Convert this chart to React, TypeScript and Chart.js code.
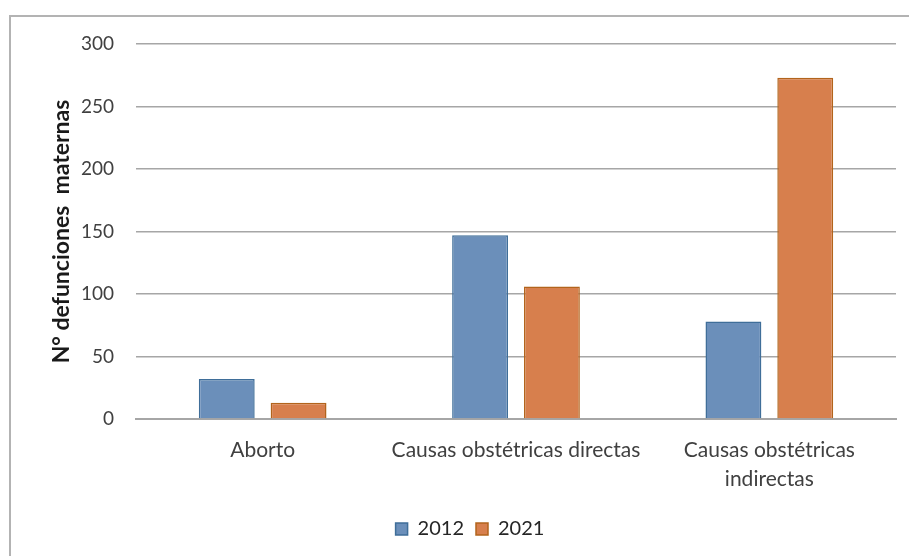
import React, { useEffect, useRef } from "react";
import { Chart, registerables } from "chart.js";

Chart.register(...registerables);

const categories: (string | string[])[] = [
  "Aborto",
  "Causas obstétricas directas",
  ["Causas obstétricas", "indirectas"],
];
const series2012 = [32, 147, 78];
const series2021 = [13, 106, 273];
const seriesLabels = ["2012", "2021"];
const yTicks = { min: 0, max: 300, step: 50 };
const yTitle = "N° defunciones  maternas";

const FONT = "Lato, 'Noto Sans', sans-serif";

export default function App() {
  const ref = useRef<HTMLCanvasElement | null>(null);

  useEffect(() => {
    if (!ref.current) return;
    const chart = new Chart(ref.current, {
      type: "bar",
      data: {
        labels: categories,
        datasets: [
          {
            label: seriesLabels[0],
            data: series2012,
            backgroundColor: "#6b8fba",
            borderColor: "#3f6e99",
            borderWidth: 1.5,
            categoryPercentage: 0.567,
            barPercentage: 0.778,
          },
          {
            label: seriesLabels[1],
            data: series2021,
            backgroundColor: "#d77f4d",
            borderColor: "#b2641c",
            borderWidth: 1.5,
            categoryPercentage: 0.567,
            barPercentage: 0.778,
          },
        ],
      },
      options: {
        responsive: false,
        animation: false,
        layout: { padding: { top: 44, right: 13, left: 44, bottom: 7 } },
        plugins: {
          tooltip: { enabled: false },
          legend: {
            position: "bottom",
            labels: {
              boxWidth: 12,
              boxHeight: 12,
              padding: 12,
              color: "#262626",
              font: { family: FONT, size: 20 },
            },
          },
        },
        scales: {
          x: {
            grid: { display: false, drawTicks: false },
            border: { display: true, color: "#a6a6a6", width: 2 },
            ticks: {
              color: "#404040",
              padding: 17,
              maxRotation: 0,
              autoSkip: false,
              font: { family: FONT, size: 21, lineHeight: 1.38 },
            },
            afterFit: (s: any) => {
              s.height = 88;
            },
          },
          y: {
            min: yTicks.min,
            max: yTicks.max,
            grid: { color: "#a6a6a6", lineWidth: 1.6, drawTicks: false },
            border: { display: false },
            ticks: {
              stepSize: yTicks.step,
              color: "#404040",
              padding: 22,
              font: { family: FONT, size: 19 },
            },
            title: {
              display: true,
              text: yTitle,
              color: "#1a1a1a",
              padding: { top: 4, bottom: 0 },
              font: { family: FONT, size: 23, weight: "bold" },
            },
            afterFit: (s: any) => {
              s.width = 92;
            },
          },
        },
      },
    });
    return () => chart.destroy();
  }, []);

  return (
    <div style={{ position: "fixed", left: 0, top: 0, width: 909, height: 556, background: "#fff", overflow: "hidden" }}>
      <div
        style={{
          position: "absolute",
          left: 9,
          top: 15,
          width: 1000,
          height: 1000,
          borderLeft: "2px solid #b3b3b3",
          borderTop: "2px solid #b3b3b3",
        }}
      />
      <canvas
        ref={ref}
        width={909}
        height={556}
        style={{ position: "absolute", left: 0, top: 0, width: 909, height: 556 }}
      />
    </div>
  );
}
